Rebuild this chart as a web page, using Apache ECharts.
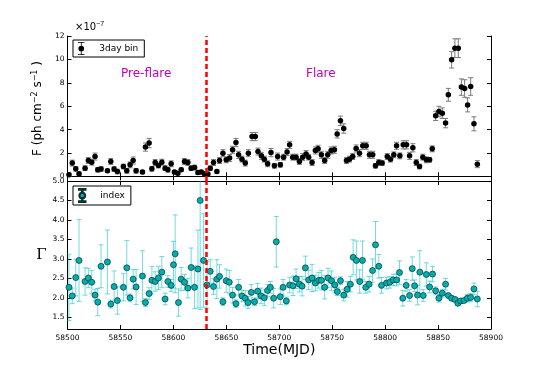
<!DOCTYPE html>
<html>
<head>
<meta charset="utf-8">
<script src="https://cdn.jsdelivr.net/npm/echarts@6/dist/echarts.min.js"></script>
<style>
  html, body { margin: 0; padding: 0; background: #fff; }
  #chart { width: 545px; height: 366px; }
</style>
</head>
<body>
<div id="chart"></div>
<script>
// 3-day binned flux, in units of 1e-7 ph cm^-2 s^-1
var fluxTime = [
  58501.4, 58504.5, 58507.8, 58510.9, 58516.6, 58519.7, 58522.9, 58526.0, 58528.6, 58531.7,
  58537.7, 58540.9, 58544.0, 58547.1, 58552.8, 58556.0, 58559.1, 58562.0, 58564.8, 58570.8,
  58573.6, 58577.1, 58579.7, 58582.8, 58585.9, 58589.1, 58592.2, 58594.8, 58597.9, 58601.0,
  58604.2, 58607.4, 58610.5, 58613.7, 58616.8, 58620.0, 58623.2, 58626.3, 58629.4, 58632.6,
  58634.8, 58637.9, 58641.1, 58643.6, 58646.8, 58649.9, 58653.1, 58655.9, 58659.1, 58661.6,
  58664.8, 58667.9, 58670.8, 58674.3, 58677.4, 58679.9, 58683.1, 58685.9, 58689.0, 58692.2,
  58695.4, 58698.5, 58701.0, 58704.1, 58707.4, 58709.8, 58712.7, 58715.9, 58719.0, 58722.1,
  58725.3, 58727.8, 58731.0, 58734.1, 58736.7, 58739.8, 58742.9, 58745.8, 58749.0, 58752.1,
  58754.7, 58757.8, 58760.9, 58763.5, 58766.3, 58769.4, 58772.6, 58775.8, 58778.9, 58782.1,
  58785.2, 58788.3, 58790.9, 58794.0, 58797.2, 58802.0, 58805.1, 58808.2, 58810.8, 58813.9,
  58817.1, 58820.2, 58823.1, 58826.2, 58829.4, 58832.5, 58835.6, 58838.9, 58842.0, 58844.5,
  58847.7, 58850.8, 58854.0, 58857.1, 58859.7, 58862.8, 58865.9, 58869.1, 58872.0, 58875.1,
  58877.9, 58880.8, 58883.9, 58887.1
];
var fluxVal = [
  0.13, 1.13, 0.64, 0.21, 0.70, 1.35, 1.21, 1.69, 0.56, 0.62,
  0.47, 1.27, 0.62, 0.41, 0.84, 0.47, 0.98, 1.35, 0.47, 0.36,
  2.50, 2.84, 0.64, 1.18, 0.92, 1.21, 0.70, 0.56, 1.07, 0.36,
  0.27, 0.56, 1.27, 1.18, 0.70, 0.75, 0.32, 0.36, 0.21, 0.19,
  0.70, 1.18, 0.41, 1.35, 1.98, 1.41, 1.56, 2.27, 2.89, 1.84,
  1.47, 1.13, 1.98, 3.40, 3.40, 2.12, 1.75, 1.47, 1.07, 2.03,
  0.90, 1.69, 0.98, 1.64, 2.07, 2.69, 1.64, 1.64, 1.27, 1.64,
  1.90, 1.64, 1.18, 2.21, 2.35, 1.84, 1.35, 1.84, 2.21, 2.27,
  3.63, 4.75, 4.09, 1.35, 1.47, 1.69, 2.38, 1.98, 2.61, 2.61,
  1.84, 1.84, 0.90, 1.18, 1.13, 1.69, 1.47, 1.84, 2.61, 1.75,
  2.69, 2.69, 1.75, 2.44, 1.18, 0.84, 1.64, 1.41, 1.41, 2.35,
  5.17, 5.54, 5.40, 4.55, 6.97, 9.96, 10.96, 10.96, 7.63, 7.51,
  6.11, 7.68, 4.49, 1.04
];
var fluxErr = [
  0.15, 0.25, 0.2, 0.15, 0.2, 0.25, 0.25, 0.3, 0.2, 0.2,
  0.15, 0.25, 0.2, 0.2, 0.2, 0.2, 0.25, 0.3, 0.2, 0.15,
  0.35, 0.4, 0.2, 0.25, 0.2, 0.25, 0.2, 0.2, 0.25, 0.15,
  0.15, 0.15, 0.25, 0.25, 0.2, 0.2, 0.15, 0.15, 0.15, 0.15,
  0.2, 0.25, 0.15, 0.25, 0.3, 0.25, 0.3, 0.3, 0.35, 0.3,
  0.25, 0.25, 0.3, 0.35, 0.35, 0.3, 0.3, 0.25, 0.25, 0.35,
  0.2, 0.3, 0.2, 0.25, 0.3, 0.3, 0.25, 0.25, 0.25, 0.3,
  0.3, 0.25, 0.25, 0.3, 0.3, 0.3, 0.25, 0.3, 0.3, 0.3,
  0.35, 0.4, 0.4, 0.25, 0.25, 0.25, 0.3, 0.3, 0.3, 0.3,
  0.3, 0.3, 0.2, 0.25, 0.2, 0.25, 0.25, 0.25, 0.3, 0.25,
  0.35, 0.35, 0.3, 0.35, 0.25, 0.2, 0.25, 0.25, 0.2, 0.25,
  0.4, 0.45, 0.45, 0.4, 0.55, 0.7, 0.8, 0.8, 0.7, 0.75,
  0.6, 0.75, 0.6, 0.3
];

// photon index
var indexTime = [
  58501.4, 58504.5, 58507.8, 58510.9, 58516.6, 58519.7, 58522.9, 58526.0, 58528.6, 58531.7,
  58537.7, 58540.9, 58544.0, 58547.1, 58552.8, 58556.0, 58559.1, 58562.0, 58564.8, 58570.8,
  58573.6, 58577.1, 58579.7, 58582.8, 58585.9, 58589.1, 58592.2, 58594.8, 58597.9, 58600.1,
  58601.7, 58604.8, 58607.4, 58610.5, 58613.7, 58616.8, 58620.0, 58623.2, 58625.3, 58628.5,
  58631.7, 58634.8, 58637.9, 58641.1, 58643.6, 58646.8, 58649.9, 58652.8, 58655.9, 58659.1,
  58661.6, 58664.8, 58667.9, 58670.5, 58673.6, 58676.7, 58679.6, 58682.8, 58685.9, 58689.0,
  58691.6, 58694.7, 58697.2, 58701.0, 58703.6, 58706.7, 58709.8, 58713.0, 58715.9, 58719.0,
  58721.6, 58724.7, 58727.8, 58731.0, 58734.1, 58737.3, 58739.8, 58742.9, 58746.1, 58749.3,
  58752.4, 58754.9, 58757.8, 58760.9, 58764.1, 58767.2, 58769.8, 58772.9, 58776.0, 58778.6,
  58781.7, 58784.9, 58788.1, 58790.9, 58794.0, 58796.6, 58801.3, 58804.4, 58807.6, 58810.8,
  58813.6, 58816.7, 58819.9, 58823.1, 58825.6, 58827.8, 58830.6, 58832.8, 58836.0, 58838.9,
  58842.0, 58844.8, 58847.7, 58850.8, 58854.0, 58857.1, 58859.7, 58862.8, 58865.9, 58868.7,
  58871.3, 58874.4, 58877.6, 58880.8, 58883.9, 58887.1
];
var indexVal = [
  2.27, 2.05, 2.52, 2.96, 2.42, 2.51, 2.40, 2.07, 1.89, 2.81,
  2.92, 1.84, 2.29, 1.93, 2.27, 2.77, 2.00, 2.48, 2.28, 2.56,
  1.88, 2.11, 2.45, 2.42, 2.51, 2.66, 1.97, 2.42, 2.32, 2.85,
  3.13, 1.88, 2.48, 2.40, 2.25, 2.78, 2.27, 2.74, 4.50, 2.96,
  2.33, 2.68, 2.29, 2.48, 2.55, 1.90, 2.44, 2.40, 2.07, 1.85,
  2.27, 2.05, 1.99, 1.88, 2.14, 1.90, 2.17, 2.05, 2.00, 2.19,
  2.27, 1.99, 3.44, 2.03, 2.27, 1.92, 2.33, 2.31, 2.49, 2.35,
  2.30, 2.77, 2.46, 2.51, 2.38, 2.45, 2.45, 2.27, 2.51, 2.44,
  2.33, 2.16, 2.44, 2.07, 2.22, 2.35, 3.04, 2.96, 2.42, 2.96,
  2.27, 2.35, 2.70, 3.36, 2.81, 2.32, 2.38, 2.40, 2.46, 2.46,
  2.65, 1.99, 2.32, 2.06, 2.75, 2.31, 2.07, 2.66, 2.06, 2.60,
  2.28, 2.61, 2.18, 1.99, 2.12, 2.35, 2.06, 1.99, 1.96, 1.86,
  1.92, 1.93, 1.99, 2.01, 2.23, 1.97
];
var indexErr = [
  0.85, 0.2, 0.47, 1.05, 0.35, 0.25, 0.3, 0.15, 0.35, 0.55,
  0.82, 0.1, 0.4, 0.35, 0.35, 0.7, 0.1, 0.25, 0.45, 0.65,
  0.1, 0.15, 0.35, 0.25, 0.3, 0.4, 0.15, 0.15, 0.15, 0.6,
  1.0, 0.35, 0.3, 0.2, 0.25, 0.5, 0.55, 1.0, 2.8, 1.2,
  0.6, 0.3, 0.2, 0.5, 0.3, 0.1, 0.3, 0.3, 0.2, 0.1,
  0.2, 0.15, 0.2, 0.15, 0.2, 0.1, 0.2, 0.2, 0.2, 0.15,
  0.15, 0.25, 0.65, 0.2, 0.2, 0.1, 0.2, 0.25, 0.25, 0.2,
  0.25, 0.3, 0.25, 0.35, 0.2, 0.2, 0.25, 0.3, 0.25, 0.25,
  0.2, 0.1, 0.1, 0.15, 0.2, 0.2, 0.45, 0.5, 0.3, 0.5,
  0.15, 0.2, 0.3, 0.6, 0.3, 0.2, 0.15, 0.15, 0.15, 0.15,
  0.3, 0.2, 0.15, 0.15, 0.3, 0.15, 0.25, 0.55, 0.15, 0.3,
  0.15, 0.2, 0.1, 0.1, 0.1, 0.15, 0.05, 0.05, 0.05, 0.05,
  0.05, 0.05, 0.1, 0.1, 0.15, 0.2
];

var flareStart = 58631;
var fluxTicks = [0, 2, 4, 6, 8, 10, 12];
var indexTicks = [1.5, 2.0, 2.5, 3.0, 3.5, 4.0, 4.5, 5.0];

function zip(t, v) {
  return t.map(function (x, i) { return [x, v[i]]; });
}
function zipErr(t, v, e) {
  return t.map(function (x, i) { return [x, v[i] - e[i], v[i] + e[i]]; });
}

// vertical error bar with caps, drawn through the axis scales
function errBar(color, opacity) {
  return function (params, api) {
    var top = api.coord([api.value(0), api.value(2)]);
    var bot = api.coord([api.value(0), api.value(1)]);
    var w = 2.5;
    var st = { stroke: color, lineWidth: 1, opacity: opacity };
    return {
      type: 'group',
      children: [
        { type: 'line', shape: { x1: top[0], y1: top[1], x2: bot[0], y2: bot[1] }, style: st },
        { type: 'line', shape: { x1: top[0] - w, y1: top[1], x2: top[0] + w, y2: top[1] }, style: st },
        { type: 'line', shape: { x1: bot[0] - w, y1: bot[1], x2: bot[0] + w, y2: bot[1] }, style: st }
      ]
    };
  };
}

var ebIcon = 'path://M4,0 H12 V1 H8.5 V5 H7.5 V1 H4 Z M7.5,11 H8.5 V15 H12 V16 H4 V15 H7.5 Z M11.5,8 A3.5,3.5 0 1 1 4.5,8 A3.5,3.5 0 1 1 11.5,8 Z';

var tickLbl = { fontSize: 7.5, color: '#000', fontFamily: 'DejaVu Sans' };
var frame = { show: true, lineStyle: { color: '#000', width: 1 } };
var tickIn = { show: true, inside: true, length: 4, lineStyle: { color: '#000' } };

function xAx(grid, pos, labels) {
  return {
    type: 'value', gridIndex: grid, position: pos, min: 58500, max: 58900, interval: 50,
    axisLine: frame, axisTick: tickIn, splitLine: { show: false },
    axisLabel: Object.assign({ show: labels, margin: 5, formatter: function (v) { return String(v); } }, tickLbl)
  };
}
function yAx(grid, pos, min, max, ticks, labels, fmt) {
  return {
    type: 'value', gridIndex: grid, position: pos, min: min, max: max,
    axisLine: frame, splitLine: { show: false },
    axisTick: Object.assign({ customValues: ticks }, tickIn),
    axisLabel: Object.assign({ show: labels, margin: 3, customValues: ticks, formatter: fmt }, tickLbl)
  };
}

var redLine = {
  silent: true, symbol: ['none', 'none'], label: { show: false },
  lineStyle: { color: '#ff0000', type: [5, 3], width: 2.5 },
  data: [{ xAxis: flareStart }]
};

var chart = echarts.init(document.getElementById('chart'));
var xBottom = xAx(1, 'bottom', true);
xBottom.name = 'Time(MJD)';
xBottom.nameLocation = 'middle';
xBottom.nameGap = 12;
xBottom.nameTextStyle = { fontSize: 14, color: '#000', fontFamily: 'DejaVu Sans' };

var yFlux = yAx(0, 'left', -0.4, 12, fluxTicks, true, function (v) { return String(v); });
yFlux.name = 'F (ph cm{sup|\u22122} s{sup|\u22121} )';
yFlux.nameLocation = 'middle';
yFlux.nameRotate = 90;
yFlux.nameGap = 16;
yFlux.nameTextStyle = {
  fontSize: 12, color: '#000', fontFamily: 'DejaVu Sans',
  rich: { sup: { fontSize: 8, color: '#000', fontFamily: 'DejaVu Sans', padding: [0, 0, 7, 0] } }
};

var yIdx = yAx(1, 'left', 1.2, 5.0, indexTicks, true, function (v) { return v.toFixed(1); });
yIdx.name = '\u0393';
yIdx.nameLocation = 'middle';
yIdx.nameRotate = 0;
yIdx.nameGap = 20;
yIdx.nameTextStyle = { fontSize: 15, color: '#000', fontFamily: 'DejaVu Serif' };

chart.setOption({
  animation: false,
  backgroundColor: '#fff',
  grid: [
    { left: 67.5, right: 54, top: 36, height: 145 },
    { left: 67.5, right: 54, top: 181, height: 148 }
  ],
  xAxis: [xAx(0, 'bottom', false), xAx(0, 'top', false), xBottom, xAx(1, 'top', false)],
  yAxis: [
    yFlux,
    yAx(0, 'right', -0.4, 12, fluxTicks, false),
    yIdx,
    yAx(1, 'right', 1.2, 5.0, indexTicks, false)
  ],
  legend: [
    {
      data: ['3day bin'], left: 73, top: 40, orient: 'vertical',
      padding: [2, 6, 2, 5], itemWidth: 14, itemHeight: 13, itemGap: 0,
      icon: ebIcon, borderColor: '#000', borderWidth: 1, borderRadius: 0,
      backgroundColor: '#fff',
      textStyle: { fontSize: 9, color: '#000', fontFamily: 'DejaVu Sans', padding: [0, 0, 0, 6] }
    },
    {
      data: ['index'], left: 73, top: 186, orient: 'vertical',
      padding: [2, 6, 2, 5], itemWidth: 14, itemHeight: 13, itemGap: 0,
      icon: ebIcon, borderColor: '#000', borderWidth: 1, borderRadius: 0,
      backgroundColor: '#fff',
      textStyle: { fontSize: 9, color: '#000', fontFamily: 'DejaVu Sans', padding: [0, 0, 0, 6] }
    }
  ],
  graphic: [
    {
      type: 'text', left: 75, top: 21, silent: true,
      style: {
        text: '\u00d710{sup|\u22127}', fontSize: 10, fill: '#000', fontFamily: 'DejaVu Sans',
        rich: { sup: { fontSize: 7, fill: '#000', padding: [0, 0, 6, 0] } }
      }
    },
    {
      type: 'text', left: 121, top: 68, silent: true,
      style: { text: 'Pre-flare', fontSize: 12, fill: '#c000c0', fontFamily: 'DejaVu Sans' }
    },
    {
      type: 'text', left: 306, top: 68, silent: true,
      style: { text: 'Flare', fontSize: 12, fill: '#c000c0', fontFamily: 'DejaVu Sans' }
    }
  ],
  series: [
    {
      type: 'custom', xAxisIndex: 0, yAxisIndex: 0, clip: true, silent: true,
      renderItem: errBar('#7a7a7a', 1), data: zipErr(fluxTime, fluxVal, fluxErr), z: 2
    },
    {
      name: '3day bin', type: 'scatter', xAxisIndex: 0, yAxisIndex: 0,
      symbolSize: 5.5, itemStyle: { color: '#000', opacity: 1 },
      data: zip(fluxTime, fluxVal), z: 3, markLine: redLine
    },
    {
      type: 'custom', xAxisIndex: 2, yAxisIndex: 2, clip: true, silent: true,
      renderItem: errBar('#00bfbf', 0.55), data: zipErr(indexTime, indexVal, indexErr), z: 2
    },
    {
      name: 'index', type: 'scatter', xAxisIndex: 2, yAxisIndex: 2,
      symbolSize: 6, itemStyle: { color: '#00b0b0', borderColor: '#0b3030', borderWidth: 0.7, opacity: 1 },
      data: zip(indexTime, indexVal), z: 3, markLine: redLine
    }
  ]
});
</script>
</body>
</html>
